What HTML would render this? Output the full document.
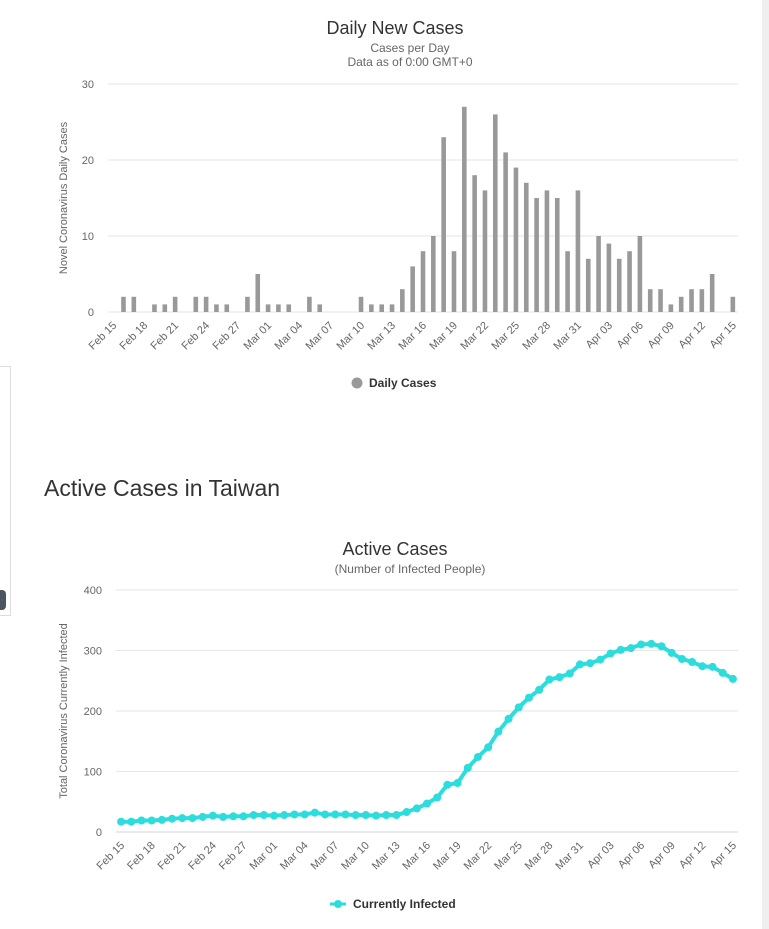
<!DOCTYPE html>
<html><head><meta charset="utf-8"><style>
body{margin:0;width:769px;height:929px;background:#fff;overflow:hidden;position:relative;font-family:"Liberation Sans",sans-serif}
svg text{font-family:"Liberation Sans",sans-serif}
</style></head><body>
<div style="position:absolute;left:0;top:366px;width:10px;height:248px;border:1px solid #ddd;border-left:none"></div>
<div style="position:absolute;left:0;top:590px;width:6px;height:20px;background:#4a5560;border-radius:0 4px 4px 0"></div>
<div style="position:absolute;left:762px;top:0;width:7px;height:929px;background:#efefef"></div>
<div style="position:absolute;left:44px;top:475px;font-size:23px;color:#333">Active Cases in Taiwan</div>
<svg id="c1" width="769" height="420" style="position:absolute;left:0;top:0"></svg>
<svg id="c2" width="769" height="420" style="position:absolute;left:0;top:509px"></svg>
<script>
const dates=[];
(function(){const m=["Feb","Mar","Apr"];let d=new Date(2020,1,15);for(let i=0;i<61;i++){dates.push(m[d.getMonth()-1]+" "+String(d.getDate()).padStart(2,"0"));d.setDate(d.getDate()+1);}})();
const dailyCases=[0,2,2,0,1,1,2,0,2,2,1,1,0,2,5,1,1,1,0,2,1,0,0,0,2,1,1,1,3,6,8,10,23,8,27,18,16,26,21,19,17,15,16,15,8,16,7,10,9,7,8,10,3,3,1,2,3,3,5,0,2];
const activeCases=[17,17,19,19,20,22,23,23,25,27,25,26,26,28,28,27,28,29,29,32,29,29,29,28,28,27,28,28,33,39,47,57,78,81,106,124,140,166,187,206,222,235,252,256,262,277,279,285,295,301,304,310,311,307,296,286,281,274,273,263,253];
const barTicks=[0,10,20,30];
const lineTicks=[0,100,200,300,400];
const NS="http://www.w3.org/2000/svg";
function mk(svg,tag,a,txt){const e=document.createElementNS(NS,tag);for(const k in a)e.setAttribute(k,a[k]);if(txt!==undefined)e.textContent=txt;svg.appendChild(e);return e;}
function chart(svg,o){
  const n=dates.length,cw=(o.r-o.l)/n;
  const xc=i=>o.l+(i+0.5)*cw;
  const y=v=>o.b-(v/o.max)*(o.b-o.t);
  let e;
  e=mk(svg,"text",{x:395,y:o.titleY,"text-anchor":"middle","font-size":18,fill:"#333"},o.title);
  
  o.subs.forEach((s,k)=>{e=mk(svg,"text",{x:410,y:o.titleY+18+k*14,"text-anchor":"middle","font-size":12,fill:"#666"},s);
  });
  o.ticks.forEach(t=>{
    e=mk(svg,"line",{x1:o.l,x2:o.r,y1:y(t),y2:y(t),stroke:t==0&&o.line?"#ccd6eb":"#e6e6e6"});
    
    e=mk(svg,"text",{x:o.l-14,y:y(t)+4,"text-anchor":"end","font-size":11,fill:"#666"},t);
    
  });
  const cy=(o.t+o.b)/2;
  e=mk(svg,"text",{x:0,y:0,transform:`translate(${o.ytX},${cy}) rotate(-90)`,"text-anchor":"middle","font-size":11,fill:"#666"},o.ytitle);
  
  for(let i=0;i<n;i+=3){
    e=mk(svg,"text",{x:0,y:0,transform:`translate(${xc(i)+4},${o.b+14}) rotate(-45)`,"text-anchor":"end","font-size":11,fill:"#666"},dates[i]);
    
  }
  if(!o.line){
    o.data.forEach((v,i)=>{if(!v)return;
      e=mk(svg,"rect",{x:xc(i)-2.3,y:y(v),width:4.6,height:o.b-y(v),fill:"#999"});
      
    });
  } else {
    e=mk(svg,"polyline",{points:o.data.map((v,i)=>xc(i)+","+y(v)).join(" "),fill:"none",stroke:"#2ddcdc","stroke-width":4,"stroke-linejoin":"round"});
    
    o.data.forEach((v,i)=>{e=mk(svg,"circle",{cx:xc(i),cy:y(v),r:4,fill:"#2ddcdc"});
      });
  }
  const lg=mk(svg,"g",{});
  
  if(o.line){mk(lg,"line",{x1:330,x2:346,y1:o.legY,y2:o.legY,stroke:"#2ddcdc","stroke-width":3});mk(lg,"circle",{cx:338,cy:o.legY,r:4,fill:"#2ddcdc"});}
  else mk(lg,"circle",{cx:357,cy:o.legY,r:5.5,fill:"#999"});
  mk(lg,"text",{x:o.line?353:369,y:o.legY+4,"font-size":12,"font-weight":"bold",fill:"#333"},o.leg);
}
chart(document.getElementById("c1"),{l:108,r:738,t:84,b:312,max:30,ticks:barTicks,data:dailyCases,title:"Daily New Cases",titleY:34,subs:["Cases per Day","Data as of 0:00 GMT+0"],ytitle:"Novel Coronavirus Daily Cases",ytX:67,leg:"Daily Cases",legY:383,line:false});
chart(document.getElementById("c2"),{l:116,r:738,t:81,b:323,max:400,ticks:lineTicks,data:activeCases,title:"Active Cases",titleY:46,subs:["(Number of Infected People)"],ytitle:"Total Coronavirus Currently Infected",ytX:67,leg:"Currently Infected",legY:395,line:true});
</script>
</body></html>
